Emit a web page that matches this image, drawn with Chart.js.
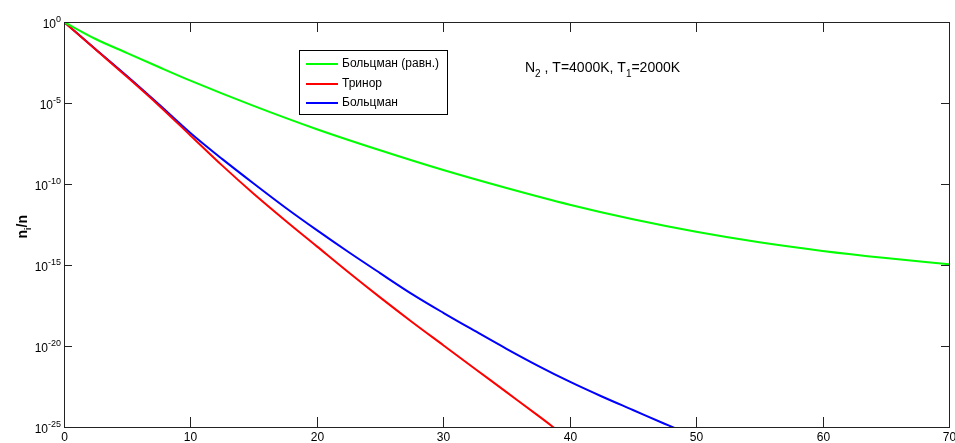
<!DOCTYPE html>
<html>
<head>
<meta charset="utf-8">
<script src="https://cdn.jsdelivr.net/npm/chart.js@4.4.1/dist/chart.umd.min.js"></script>
<style>
  html, body { margin: 0; padding: 0; background: #fff; overflow: hidden; }
  #wrap { width: 955px; height: 443px; position: relative; }
</style>
</head>
<body>
<div id="wrap"><canvas id="myChart" width="955" height="443"></canvas></div>
<script>
// Series: x positions and log10(n_i/n)
const greenX   = [0, 2.5, 5, 7.5, 10, 15, 20, 25, 30, 35, 40, 45, 50, 55, 60, 65, 70];
const greenLog = [0, -1.05, -1.92, -2.78, -3.62, -5.18, -6.62, -7.92, -9.14, -10.25, -11.28, -12.18, -12.95, -13.6, -14.13, -14.57, -14.95];

const redX   = [0, 2.5, 5, 7.5, 10, 12.5, 15, 17.5, 20, 22.5, 25, 27.5, 30, 32.5, 35, 37.5, 38.6, 39.5];
const redLog = [0, -1.7, -3.4, -5.15, -7.0, -8.85, -10.6, -12.25, -13.85, -15.45, -17.0, -18.5, -19.95, -21.4, -22.85, -24.3, -24.95, -25.5];

const blueX   = [0, 2.5, 5, 7.5, 10, 12.5, 15, 17.5, 20, 22.5, 25, 27.5, 30, 32.5, 35, 37.5, 40, 42.5, 45, 47.5, 48.2, 49];
const blueLog = [0, -1.68, -3.35, -5.08, -6.85, -8.45, -9.97, -11.45, -12.85, -14.2, -15.5, -16.78, -17.95, -19.07, -20.17, -21.22, -22.2, -23.1, -23.95, -24.8, -25.03, -25.3];

const seriesLabels = ['Больцман (равн.)', 'Тринор', 'Больцман'];
const seriesColors = ['#00ff00', '#ff0000', '#0000ff'];

const xTicks = [0, 10, 20, 30, 40, 50, 60, 70];
const yTickExps = [0, -5, -10, -15, -20, -25];

const FONT = '"Liberation Sans", Arial, sans-serif';

const toPoints = (xs, logs) => xs.map((x, i) => ({ x: x, y: Math.pow(10, logs[i]) }));

// Frame, inward ticks, tick labels with exponents, legend and annotation
const decorPlugin = {
    id: 'decor',
    afterDraw(chart) {
        const { ctx, chartArea: a, scales } = chart;
        const xs = scales.x, ys = scales.y;
        ctx.save();

        // box
        ctx.strokeStyle = '#222';
        ctx.lineWidth = 1;
        ctx.strokeRect(Math.round(a.left) + 0.5, Math.round(a.top) + 0.5,
            Math.round(a.right - a.left), Math.round(a.bottom - a.top));

        // x ticks (bottom and top), labels
        ctx.fillStyle = '#000';
        ctx.font = '12px ' + FONT;
        ctx.textAlign = 'center';
        ctx.textBaseline = 'middle';
        xs.ticks.forEach(t => {
            const px = Math.round(xs.getPixelForValue(t.value)) + 0.5;
            ctx.beginPath();
            ctx.moveTo(px, a.bottom); ctx.lineTo(px, a.bottom - 10);
            ctx.moveTo(px, a.top); ctx.lineTo(px, a.top + 10);
            ctx.stroke();
            ctx.fillText(String(t.value), px, a.bottom + 11);
        });

        // y ticks (left and right), labels 10^e
        ys.ticks.forEach(t => {
            const py = Math.round(ys.getPixelForValue(t.value)) + 0.5;
            ctx.beginPath();
            ctx.moveTo(a.left, py); ctx.lineTo(a.left + 8, py);
            ctx.moveTo(a.right, py); ctx.lineTo(a.right - 8, py);
            ctx.stroke();
            const e = Math.round(Math.log10(t.value));
            ctx.font = '9px ' + FONT;
            ctx.textAlign = 'left';
            ctx.textBaseline = 'alphabetic';
            const expText = String(e);
            const expW = ctx.measureText(expText).width;
            const expX = a.left - 3 - expW;
            ctx.fillText(expText, expX, py - 1);
            ctx.font = '12px ' + FONT;
            ctx.textAlign = 'right';
            ctx.fillText('10', expX, py + 5);
        });

        // y axis title n_i/n, rotated
        ctx.save();
        ctx.translate(27, 226);
        ctx.rotate(-Math.PI / 2);
        ctx.textAlign = 'left';
        ctx.textBaseline = 'alphabetic';
        ctx.font = 'bold 14px ' + FONT;
        let w = ctx.measureText('n').width;
        const total = w + 4 + ctx.measureText('/n').width;
        let cx = -total / 2;
        ctx.fillText('n', cx, 0);
        cx += w;
        ctx.font = 'bold 9px ' + FONT;
        ctx.fillText('i', cx, 4);
        cx += ctx.measureText('i').width;
        ctx.font = 'bold 14px ' + FONT;
        ctx.fillText('/n', cx, 0);
        ctx.restore();

        // legend box
        const lx = 299, ly = 50, lw = 148, lh = 64;
        ctx.fillStyle = '#fff';
        ctx.fillRect(lx, ly, lw, lh);
        ctx.strokeStyle = '#000';
        ctx.strokeRect(lx + 0.5, ly + 0.5, lw, lh);
        ctx.font = '12px ' + FONT;
        ctx.textAlign = 'left';
        ctx.textBaseline = 'middle';
        chart.data.datasets.forEach((ds, i) => {
            const ry = [64, 84, 103][i];
            ctx.strokeStyle = ds.borderColor;
            ctx.lineWidth = 2;
            ctx.beginPath();
            ctx.moveTo(306, ry); ctx.lineTo(338, ry);
            ctx.stroke();
            ctx.fillStyle = '#000';
            ctx.fillText(ds.label, 342, ry);
        });

        // annotation N_2 , T=4000K, T_1=2000K
        const parts = [['N', 0], ['2', 1], [' , T=4000K, T', 0], ['1', 1], ['=2000K', 0]];
        let ax = 525;
        const base = 72;
        ctx.fillStyle = '#000';
        ctx.textBaseline = 'alphabetic';
        parts.forEach(([txt, sub]) => {
            ctx.font = (sub ? '10px ' : '14px ') + FONT;
            ctx.fillText(txt, ax, base + (sub ? 5 : 0));
            ax += ctx.measureText(txt).width;
        });

        ctx.restore();
    }
};

const ctx = document.getElementById('myChart').getContext('2d');
const chart = new Chart(ctx, {
    type: 'line',
    data: {
        datasets: [greenX, redX, blueX].map((xs, i) => ({
            label: seriesLabels[i],
            data: toPoints(xs, [greenLog, redLog, blueLog][i]),
            borderColor: seriesColors[i],
            backgroundColor: seriesColors[i],
            borderWidth: 2,
            pointRadius: 0,
            cubicInterpolationMode: 'monotone',
            fill: false
        }))
    },
    options: {
        responsive: false,
        animation: false,
        devicePixelRatio: 1,
        layout: { padding: { left: 56, right: 6, top: 22, bottom: 8 } },
        plugins: {
            legend: { display: false },
            tooltip: { enabled: false }
        },
        scales: {
            x: {
                type: 'linear',
                min: 0,
                max: 70,
                afterBuildTicks: s => { s.ticks = xTicks.map(v => ({ value: v })); },
                ticks: { display: false },
                grid: { display: false },
                border: { display: false }
            },
            y: {
                type: 'logarithmic',
                min: 1e-25,
                max: 1,
                afterBuildTicks: s => { s.ticks = yTickExps.map(e => ({ value: Math.pow(10, e) })); },
                ticks: { display: false },
                grid: { display: false },
                border: { display: false }
            }
        }
    },
    plugins: [decorPlugin]
});
</script>
</body>
</html>
